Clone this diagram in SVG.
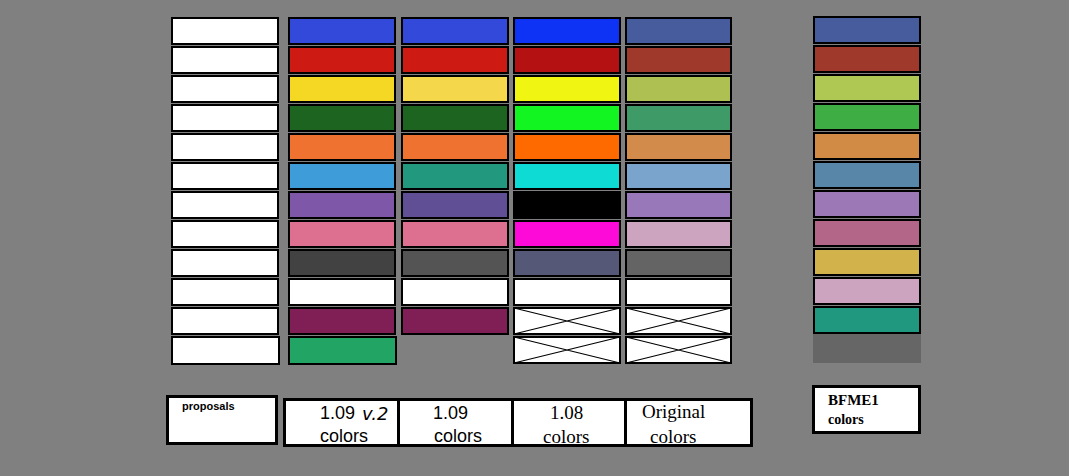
<svg xmlns="http://www.w3.org/2000/svg" width="1069" height="476" viewBox="0 0 1069 476">
<style>
.c{stroke:#000;stroke-width:2}
.x{stroke:#000;stroke-width:1.2;fill:none}
.lb{fill:#fff;stroke:#000;stroke-width:3}
.sans{font-family:"Liberation Sans",Arial,sans-serif;fill:#000}
.serif{font-family:"Liberation Serif","Times New Roman",serif;fill:#000}
</style>
<rect width="1069" height="476" fill="#808080"/>
<g id="proposals-col" fill="#fff">
<rect class="c" x="172" y="18" width="106" height="26"/>
<rect class="c" x="172" y="47" width="106" height="26"/>
<rect class="c" x="172" y="76" width="106" height="26"/>
<rect class="c" x="172" y="105" width="106" height="26"/>
<rect class="c" x="172" y="134" width="106" height="26"/>
<rect class="c" x="172" y="163" width="106" height="26"/>
<rect class="c" x="172" y="192" width="106" height="26"/>
<rect class="c" x="172" y="221" width="106" height="26"/>
<rect class="c" x="172" y="250" width="106" height="26"/>
<rect class="c" x="172" y="279" width="106" height="26"/>
<rect class="c" x="172" y="308" width="106" height="26"/>
<rect class="c" x="172" y="337" width="107" height="27"/>
</g>
<g id="v109v2-col">
<rect class="c" x="289" y="18" width="106" height="26" fill="#3349d9"/>
<rect class="c" x="289" y="47" width="106" height="26" fill="#cd1a12"/>
<rect class="c" x="289" y="76" width="106" height="26" fill="#f5d824"/>
<rect class="c" x="289" y="105" width="106" height="26" fill="#1c6420"/>
<rect class="c" x="289" y="134" width="106" height="26" fill="#ef7230"/>
<rect class="c" x="289" y="163" width="106" height="26" fill="#3e9cd8"/>
<rect class="c" x="289" y="192" width="106" height="26" fill="#7f57a8"/>
<rect class="c" x="289" y="221" width="106" height="26" fill="#dd7090"/>
<rect class="c" x="289" y="250" width="106" height="26" fill="#424242"/>
<rect class="c" x="289" y="279" width="106" height="26" fill="#fff"/>
<rect class="c" x="289" y="308" width="106" height="26" fill="#7f1f56"/>
<rect class="c" x="289" y="337" width="107" height="27" fill="#21a464"/>
</g>
<g id="v109-col">
<rect class="c" x="402" y="18" width="106" height="26" fill="#3349d9"/>
<rect class="c" x="402" y="47" width="106" height="26" fill="#cd1a12"/>
<rect class="c" x="402" y="76" width="106" height="26" fill="#f5d74c"/>
<rect class="c" x="402" y="105" width="106" height="26" fill="#1c6420"/>
<rect class="c" x="402" y="134" width="106" height="26" fill="#ef7230"/>
<rect class="c" x="402" y="163" width="106" height="26" fill="#22987e"/>
<rect class="c" x="402" y="192" width="106" height="26" fill="#614f96"/>
<rect class="c" x="402" y="221" width="106" height="26" fill="#dd7090"/>
<rect class="c" x="402" y="250" width="106" height="26" fill="#545454"/>
<rect class="c" x="402" y="279" width="106" height="26" fill="#fff"/>
<rect class="c" x="402" y="308" width="106" height="26" fill="#7f1f56"/>
</g>
<g id="v108-col">
<rect class="c" x="514" y="18" width="106" height="26" fill="#0e33f5"/>
<rect class="c" x="514" y="47" width="106" height="26" fill="#b41212"/>
<rect class="c" x="514" y="76" width="106" height="26" fill="#f0f512"/>
<rect class="c" x="514" y="105" width="106" height="26" fill="#12f520"/>
<rect class="c" x="514" y="134" width="106" height="26" fill="#ff6a00"/>
<rect class="c" x="514" y="163" width="106" height="26" fill="#0ddbd4"/>
<rect class="c" x="514" y="192" width="106" height="26" fill="#000"/>
<rect class="c" x="514" y="221" width="106" height="26" fill="#fe0ad8"/>
<rect class="c" x="514" y="250" width="106" height="26" fill="#565878"/>
<rect class="c" x="514" y="279" width="106" height="26" fill="#fff"/>
<rect class="c" x="514" y="308" width="106" height="26" fill="#fff"/>
<path class="x" d="M514,308 L620,334 M620,308 L514,334"/>
<rect class="c" x="514" y="337" width="106" height="26" fill="#fff"/>
<path class="x" d="M514,337 L620,363 M620,337 L514,363"/>
</g>
<g id="original-col">
<rect class="c" x="626" y="18" width="105" height="26" fill="#465c9c"/>
<rect class="c" x="626" y="47" width="105" height="26" fill="#9e392c"/>
<rect class="c" x="626" y="76" width="105" height="26" fill="#afc053"/>
<rect class="c" x="626" y="105" width="105" height="26" fill="#3e9a66"/>
<rect class="c" x="626" y="134" width="105" height="26" fill="#d28b4a"/>
<rect class="c" x="626" y="163" width="105" height="26" fill="#7aa4cc"/>
<rect class="c" x="626" y="192" width="105" height="26" fill="#9878b8"/>
<rect class="c" x="626" y="221" width="105" height="26" fill="#cda4c0"/>
<rect class="c" x="626" y="250" width="105" height="26" fill="#646464"/>
<rect class="c" x="626" y="279" width="105" height="26" fill="#fff"/>
<rect class="c" x="626" y="308" width="105" height="26" fill="#fff"/>
<path class="x" d="M626,308 L731,334 M731,308 L626,334"/>
<rect class="c" x="626" y="337" width="105" height="26" fill="#fff"/>
<path class="x" d="M626,337 L731,363 M731,337 L626,363"/>
</g>
<g id="bfme-col">
<rect class="c" x="814" y="17" width="106" height="26" fill="#465c9c"/>
<rect class="c" x="814" y="46" width="106" height="26" fill="#9e392c"/>
<rect class="c" x="814" y="75" width="106" height="26" fill="#afc853"/>
<rect class="c" x="814" y="104" width="106" height="26" fill="#3eae44"/>
<rect class="c" x="814" y="133" width="106" height="26" fill="#d28b44"/>
<rect class="c" x="814" y="162" width="106" height="26" fill="#5886a8"/>
<rect class="c" x="814" y="191" width="106" height="26" fill="#9c78b6"/>
<rect class="c" x="814" y="220" width="106" height="26" fill="#b46688"/>
<rect class="c" x="814" y="249" width="106" height="26" fill="#d2b24a"/>
<rect class="c" x="814" y="278" width="106" height="26" fill="#cda4c0"/>
<rect class="c" x="814" y="307" width="106" height="26" fill="#209880"/>
<rect x="813" y="334" width="108" height="29" fill="#666"/>
</g>
<g id="label-proposals">
<rect class="lb" x="167.5" y="396.5" width="109" height="47"/>
<text class="sans" x="182" y="410" font-size="11" font-weight="bold">proposals</text>
</g>
<g id="label-versions">
<rect class="lb" x="284.5" y="399.5" width="467" height="46"/>
<line x1="398.5" y1="399" x2="398.5" y2="446" stroke="#000" stroke-width="3"/>
<line x1="512.5" y1="399" x2="512.5" y2="446" stroke="#000" stroke-width="3"/>
<line x1="625.5" y1="399" x2="625.5" y2="446" stroke="#000" stroke-width="3"/>
<text class="sans" x="320" y="419" font-size="18">1.09</text>
<text x="362" y="420" font-family="DejaVu Sans,sans-serif" font-style="italic" font-size="18" fill="#000">v.2</text>
<text class="sans" x="320" y="442" font-size="18">colors</text>
<text class="sans" x="433" y="419" font-size="18">1.09</text>
<text class="sans" x="434" y="442" font-size="18">colors</text>
<text class="serif" x="550" y="419" font-size="19">1.08</text>
<text class="serif" x="543" y="443" font-size="19">colors</text>
<text class="serif" x="642" y="418" font-size="19">Original</text>
<text class="serif" x="650" y="443" font-size="19">colors</text>
</g>
<g id="label-bfme">
<rect class="lb" x="813.5" y="386.5" width="106" height="46"/>
<text class="serif" x="828" y="405" font-size="15" font-weight="bold">BFME1</text>
<text class="serif" x="828" y="424" font-size="14" font-weight="bold">colors</text>
</g>
</svg>
